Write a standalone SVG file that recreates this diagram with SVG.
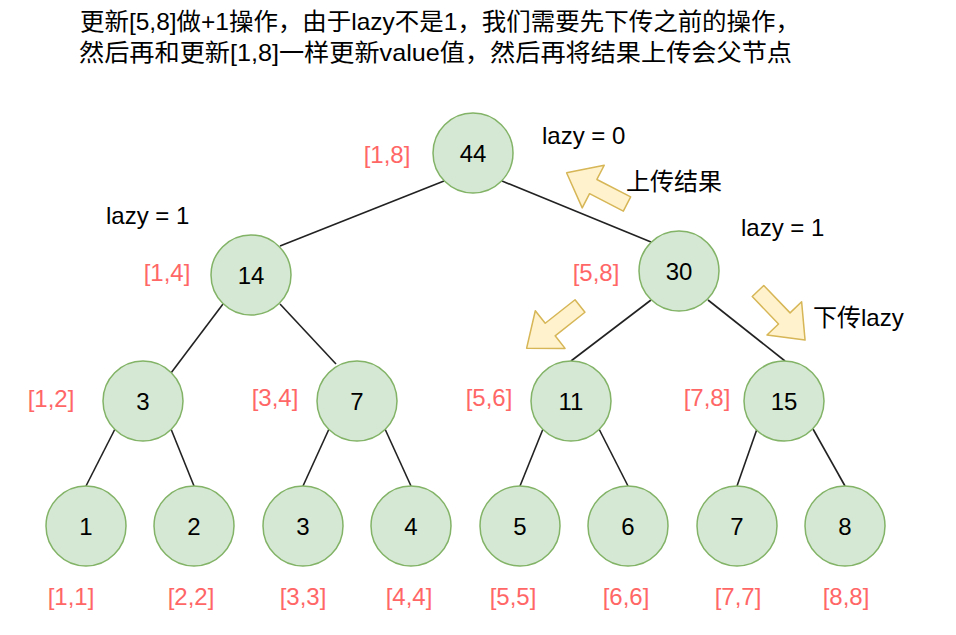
<svg xmlns="http://www.w3.org/2000/svg" width="956" height="635" viewBox="0 0 956 635">
<style>
text{font-family:"Liberation Sans","Noto Sans CJK SC",sans-serif;font-size:24px;}
.n circle{fill:#d5e8d4;stroke:#82b366;stroke-width:1.5;}
.n text{fill:#000;text-anchor:middle;}
.r{fill:#ff6666;text-anchor:middle;}
.k{fill:#000;}
.e line{stroke:#222;stroke-width:1.6;}
.a{fill:#fff2cc;stroke:#d6b656;stroke-width:1.5;stroke-linejoin:round;}
</style>
<defs>
<polygon id="blk" points="0,-8 38,-8 38,-24 68,0 38,24 38,8 0,8"/>
</defs>
<rect width="956" height="635" fill="#fff"/>
<g id="title" class="k">
<text x="80" y="30" textLength="720" lengthAdjust="spacingAndGlyphs">更新[5,8]做+1操作，由于lazy不是1，我们需要先下传之前的操作，</text>
<text x="79" y="61" textLength="713" lengthAdjust="spacingAndGlyphs">然后再和更新[1,8]一样更新value值，然后再将结果上传会父节点</text>
</g>
<g id="edges" class="e">
<line x1="444" y1="181" x2="280" y2="246"/>
<line x1="502" y1="181" x2="651" y2="242"/>
<line x1="223" y1="304" x2="171" y2="373"/>
<line x1="280" y1="304" x2="336" y2="364"/>
<line x1="651" y1="300" x2="571" y2="361"/>
<line x1="708" y1="300" x2="785" y2="361"/>
<line x1="115" y1="429" x2="86" y2="486"/>
<line x1="171" y1="429" x2="194" y2="486"/>
<line x1="329" y1="429" x2="303" y2="486"/>
<line x1="385" y1="429" x2="411" y2="486"/>
<line x1="543" y1="429" x2="520" y2="486"/>
<line x1="599" y1="429" x2="628" y2="486"/>
<line x1="757" y1="429" x2="737" y2="486"/>
<line x1="813" y1="429" x2="845" y2="486"/>
</g>
<g id="n44" class="n"><circle cx="473" cy="153" r="40"/><text x="473" y="161.5">44</text></g>
<g id="n14" class="n"><circle cx="251" cy="275" r="40"/><text x="251" y="283.5">14</text></g>
<g id="n30" class="n"><circle cx="679" cy="271" r="40"/><text x="679" y="279.5">30</text></g>
<g id="n3a" class="n"><circle cx="143" cy="401" r="40"/><text x="143" y="409.5">3</text></g>
<g id="n7a" class="n"><circle cx="357" cy="401" r="40"/><text x="357" y="409.5">7</text></g>
<g id="n11" class="n"><circle cx="571" cy="401" r="40"/><text x="571" y="409.5">11</text></g>
<g id="n15" class="n"><circle cx="784" cy="401" r="40"/><text x="784" y="409.5">15</text></g>
<g id="l1" class="n"><circle cx="86" cy="526" r="40"/><text x="86" y="534.5">1</text></g>
<g id="l2" class="n"><circle cx="194" cy="526" r="40"/><text x="194" y="534.5">2</text></g>
<g id="l3" class="n"><circle cx="303" cy="526" r="40"/><text x="303" y="534.5">3</text></g>
<g id="l4" class="n"><circle cx="411" cy="526" r="40"/><text x="411" y="534.5">4</text></g>
<g id="l5" class="n"><circle cx="520" cy="526" r="40"/><text x="520" y="534.5">5</text></g>
<g id="l6" class="n"><circle cx="628" cy="526" r="40"/><text x="628" y="534.5">6</text></g>
<g id="l7" class="n"><circle cx="737" cy="526" r="40"/><text x="737" y="534.5">7</text></g>
<g id="l8" class="n"><circle cx="845" cy="526" r="40"/><text x="845" y="534.5">8</text></g>
<g id="ranges">
<text class="r" x="387" y="163">[1,8]</text>
<text class="r" x="167" y="281">[1,4]</text>
<text class="r" x="596" y="281">[5,8]</text>
<text class="r" x="51" y="407">[1,2]</text>
<text class="r" x="275" y="406">[3,4]</text>
<text class="r" x="489" y="406">[5,6]</text>
<text class="r" x="707" y="406">[7,8]</text>
<text class="r" x="71" y="605">[1,1]</text>
<text class="r" x="191" y="605">[2,2]</text>
<text class="r" x="303" y="605">[3,3]</text>
<text class="r" x="409" y="605">[4,4]</text>
<text class="r" x="513" y="605">[5,5]</text>
<text class="r" x="626" y="605">[6,6]</text>
<text class="r" x="738" y="605">[7,7]</text>
<text class="r" x="846" y="605">[8,8]</text>
</g>
<g id="notes" class="k">
<text x="542" y="144">lazy = 0</text>
<text x="626" y="190">上传结果</text>
<text x="106" y="224">lazy = 1</text>
<text x="741" y="236">lazy = 1</text>
<text x="813" y="326">下传lazy</text>
</g>
<g id="arrow-up"><use href="#blk" class="a" transform="translate(627,204) rotate(207.3)"/></g>
<g id="arrow-left"><use href="#blk" class="a" transform="translate(580,306) rotate(141.7)"/></g>
<g id="arrow-right"><use href="#blk" class="a" transform="translate(758,291) rotate(46.2)"/></g>
</svg>
